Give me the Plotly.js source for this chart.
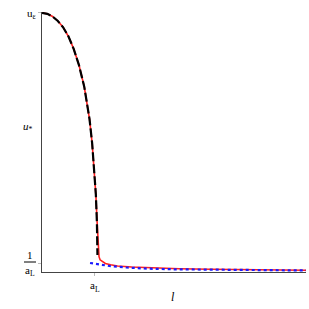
<!DOCTYPE html>
<html><head><meta charset="utf-8">
<script src="https://cdn.plot.ly/plotly-3.0.1.min.js"></script>
<style>html,body{margin:0;padding:0;background:#fff}</style>
</head><body><div id="chart" style="width:309px;height:309px"></div>
<script>
// Upper branch (black dashed)
const xUpper = [0, 0.1, 0.2, 0.3, 0.4, 0.5, 0.6, 0.7, 0.8, 0.85, 0.9, 0.95, 1.0, 1.02, 1.04, 1.05];
const yUpper = [28.8, 28.7, 28.4, 27.9, 27.2, 26.2, 24.8, 23.0, 20.6, 19.0, 17.0, 14.3, 10.8, 8.6, 5.5, 1.9];
// Full solution (red solid)
const xFull = [0, 0.1, 0.2, 0.3, 0.4, 0.5, 0.6, 0.7, 0.8, 0.85, 0.9, 0.95, 1.0, 1.02, 1.04, 1.055, 1.065, 1.08, 1.1, 1.15, 1.2, 1.3, 1.43, 1.7, 2.08, 2.6, 3.2, 4.0, 5.0];
const yFull = [28.8, 28.7, 28.4, 27.9, 27.2, 26.2, 24.8, 23.0, 20.6, 19.0, 17.0, 14.3, 10.8, 8.6, 6.0, 4.0, 2.5, 1.7, 1.35, 1.1, 0.95, 0.8, 0.67, 0.55, 0.44, 0.36, 0.3, 0.24, 0.2];
// Lower asymptote (blue dotted)
const xLower = [0.91, 1.1, 1.3, 1.6, 2.0, 2.5, 3.0, 3.6, 4.3, 5.0];
const yLower = [1.0, 0.8, 0.65, 0.5, 0.37, 0.3, 0.26, 0.22, 0.19, 0.17];
// Tick positions/labels
const xTickVals = [1];
const xTickText = ['a<sub>L</sub>'];
const yTickVals = [1, 28.8];
const yTickText = ['', 'u<sub>ε</sub>'];

const serif = 'Liberation Serif, DejaVu Serif, serif';
const traces = [
  {x: xFull, y: yFull, mode: 'lines', line: {color: '#ff2020', width: 1.6}, hoverinfo: 'none'},
  {x: xUpper, y: yUpper, mode: 'lines', line: {color: '#000', width: 2.2, dash: '9px,3px'}, hoverinfo: 'none'},
  {x: xLower, y: yLower, mode: 'lines', line: {color: '#1a1aff', width: 2.2, dash: 'dot'}, hoverinfo: 'none'}
];
const layout = {
  width: 309, height: 309,
  margin: {l: 42, r: 3, t: 12, b: 37},
  showlegend: false,
  paper_bgcolor: '#fff', plot_bgcolor: '#fff',
  font: {family: serif, size: 11, color: '#000'},
  xaxis: {range: [0, 5], showgrid: false, zeroline: false, showline: true, linecolor: '#444', linewidth: 1,
          ticks: 'outside', ticklen: 3, tickcolor: '#bbb', tickvals: xTickVals, ticktext: xTickText,
          tickfont: {family: serif, size: 11}},
  yaxis: {range: [0, 28.9], showgrid: false, zeroline: false, showline: true, linecolor: '#444', linewidth: 1,
          ticks: 'outside', ticklen: 3, tickcolor: '#bbb', tickvals: yTickVals, ticktext: yTickText,
          tickfont: {family: serif, size: 11}},
  annotations: [
    {xref: 'paper', yref: 'paper', x: (28-42)/264, y: (272-127)/260, xanchor: 'center', yanchor: 'middle',
     text: '<i>u</i><sub>*</sub>', showarrow: false, font: {family: serif, size: 11}},
    {xref: 'paper', yref: 'paper', x: (173-42)/264, y: -(297-272)/260, xanchor: 'center', yanchor: 'middle',
     text: '<i>l</i>', showarrow: false, font: {family: serif, size: 12}},
    {xref: 'paper', yref: 'paper', x: -(42-30)/264, y: (272-255)/260, xanchor: 'center', yanchor: 'middle',
     text: '1', showarrow: false, font: {family: serif, size: 11}},
    {xref: 'paper', yref: 'paper', x: -(42-30)/264, y: (272-271)/260, xanchor: 'center', yanchor: 'middle',
     text: 'a<sub>L</sub>', showarrow: false, font: {family: serif, size: 11}}
  ],
  shapes: [
    {type: 'line', xref: 'paper', yref: 'paper', x0: -(42-24)/264, x1: -(42-36)/264,
     y0: (272-262)/260, y1: (272-262)/260, line: {color: '#000', width: 1}}
  ]
};
Plotly.newPlot('chart', traces, layout, {staticPlot: true, displayModeBar: false});
</script></body></html>
